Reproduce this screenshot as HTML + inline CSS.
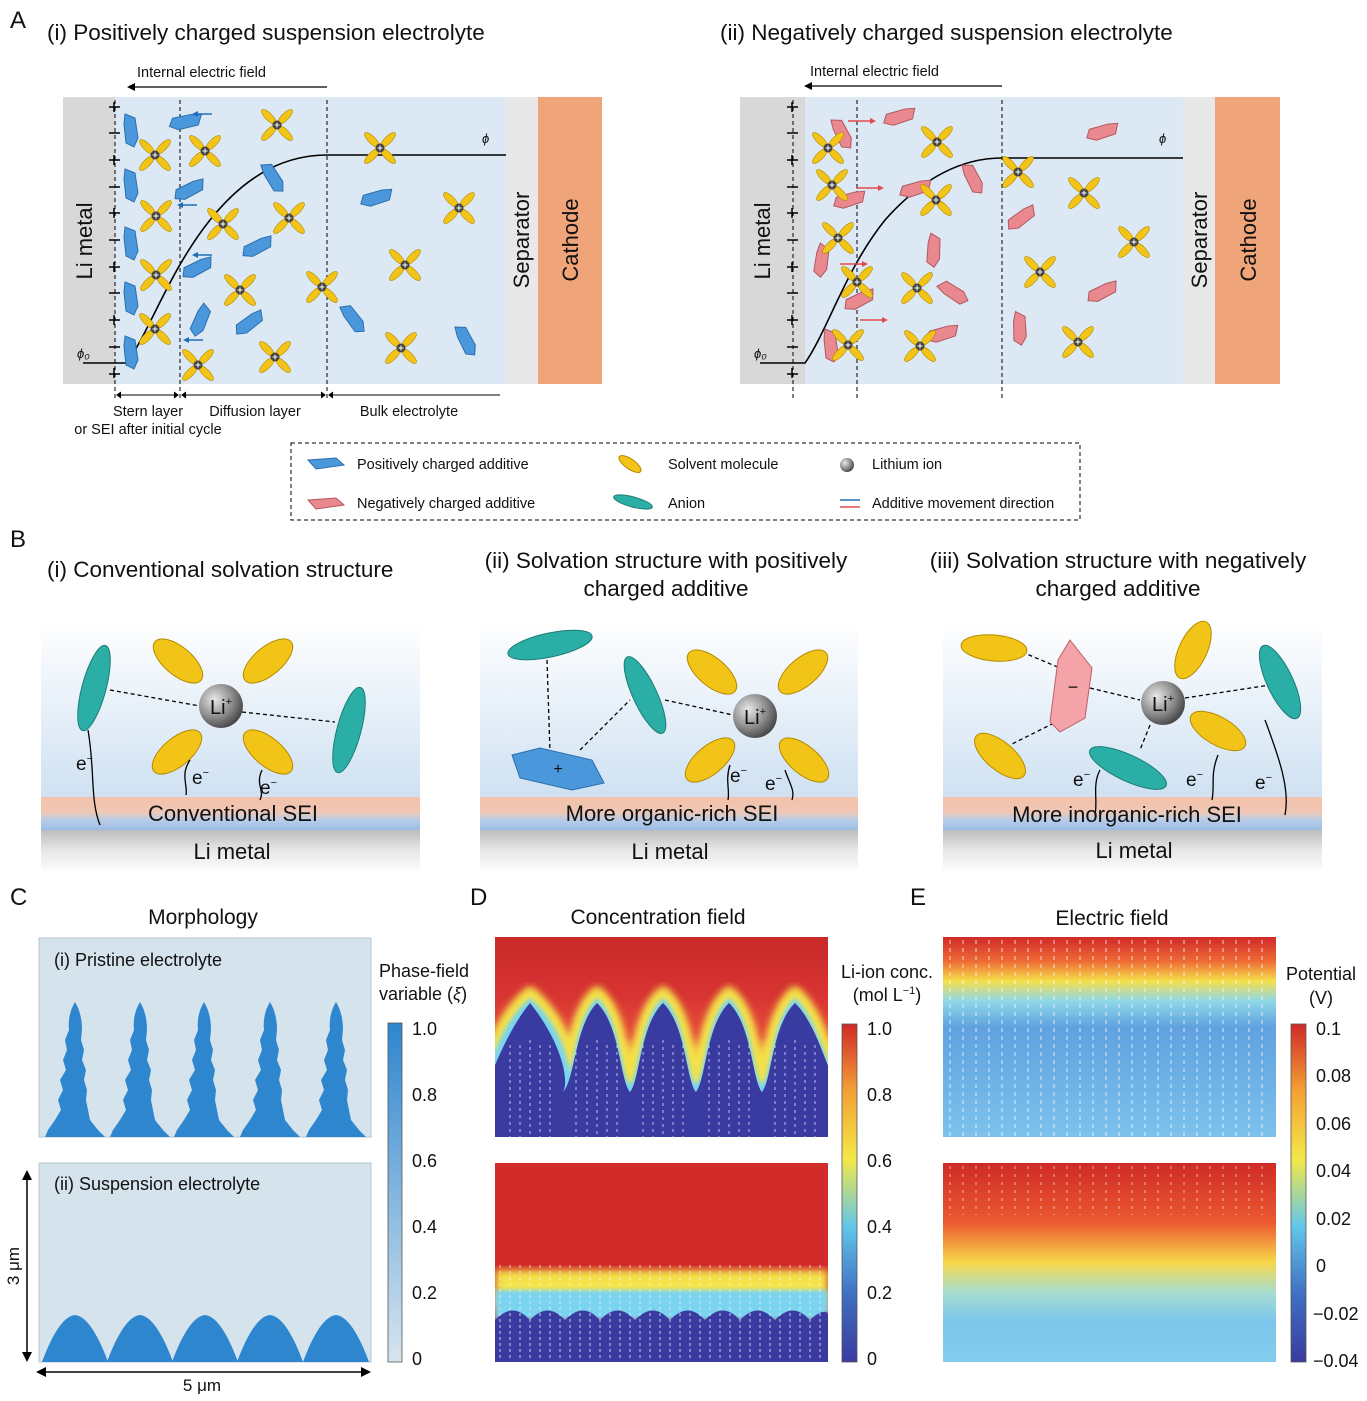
<!DOCTYPE html>
<html><head><meta charset="utf-8"><style>
html,body{margin:0;padding:0;background:#fff}
svg{display:block}
text{font-family:"Liberation Sans",sans-serif;fill:#111}
</style></head><body>
<svg width="1367" height="1401" viewBox="0 0 1367 1401" xmlns="http://www.w3.org/2000/svg">
<defs>
<g id="sv">
 <ellipse cx="-8" cy="-8" rx="10" ry="3.6" transform="rotate(45 -8 -8)" fill="#f2c417" stroke="#b38a00" stroke-width="0.6"/>
 <ellipse cx="8" cy="8" rx="10" ry="3.6" transform="rotate(45 8 8)" fill="#f2c417" stroke="#b38a00" stroke-width="0.6"/>
 <ellipse cx="8" cy="-8" rx="10" ry="3.6" transform="rotate(-45 8 -8)" fill="#f2c417" stroke="#b38a00" stroke-width="0.6"/>
 <ellipse cx="-8" cy="8" rx="10" ry="3.6" transform="rotate(-45 -8 8)" fill="#f2c417" stroke="#b38a00" stroke-width="0.6"/>
 <circle r="4.5" fill="#444"/><path d="M-2.5 0H2.5M0 -2.5V2.5" stroke="#fff" stroke-width="1"/>
</g>
<g id="hb"><polygon points="-6,-16 4,-12 7,8 3,17 -5,13 -7,-6" fill="#4a98db" stroke="#2d6fae" stroke-width="1"/></g>
<g id="hp"><polygon points="-6,-16 4,-12 7,8 3,17 -5,13 -7,-6" fill="#e9888e" stroke="#b25860" stroke-width="1"/></g>
<linearGradient id="bgB" x1="0" y1="0" x2="0" y2="1"><stop offset="0" stop-color="#fff"/><stop offset="1" stop-color="#cfe1f2"/></linearGradient>
<linearGradient id="sei" x1="0" y1="0" x2="0" y2="1"><stop offset="0" stop-color="#f3c2ab"/><stop offset="0.45" stop-color="#f0c7b4"/><stop offset="0.7" stop-color="#b7cde9"/><stop offset="1" stop-color="#9cbce4"/></linearGradient>
<linearGradient id="lim" x1="0" y1="0" x2="0" y2="1"><stop offset="0" stop-color="#bdbdbd"/><stop offset="0.5" stop-color="#e6e6e6"/><stop offset="1" stop-color="#fafafa"/></linearGradient>
<radialGradient id="li" cx="0.35" cy="0.35" r="0.7"><stop offset="0" stop-color="#e8e8e8"/><stop offset="0.6" stop-color="#8a8a8a"/><stop offset="1" stop-color="#444"/></radialGradient>
<linearGradient id="jet" x1="0" y1="1" x2="0" y2="0"><stop offset="0" stop-color="#3a3ba0"/><stop offset="0.2" stop-color="#3f6fc2"/><stop offset="0.4" stop-color="#61c6ea"/><stop offset="0.6" stop-color="#f4e848"/><stop offset="0.8" stop-color="#f4a235"/><stop offset="1" stop-color="#cf2a27"/></linearGradient>
<linearGradient id="pf" x1="0" y1="1" x2="0" y2="0"><stop offset="0" stop-color="#d7e4ee"/><stop offset="1" stop-color="#2e86cf"/></linearGradient>
<linearGradient id="e1" x1="0" y1="0" x2="0" y2="1"><stop offset="0" stop-color="#d02a28"/><stop offset="0.12" stop-color="#ee6a35"/><stop offset="0.22" stop-color="#f5df4a"/><stop offset="0.32" stop-color="#8fd8e8"/><stop offset="0.45" stop-color="#5fa2e0"/><stop offset="1" stop-color="#7cc2ec"/></linearGradient>
<linearGradient id="e2" x1="0" y1="0" x2="0" y2="1"><stop offset="0" stop-color="#cf2a27"/><stop offset="0.3" stop-color="#ec5a30"/><stop offset="0.5" stop-color="#f7d84a"/><stop offset="0.65" stop-color="#a6dcd0"/><stop offset="0.8" stop-color="#7cc6ec"/><stop offset="1" stop-color="#84ccee"/></linearGradient>
<linearGradient id="c1" x1="0" y1="0" x2="0" y2="1"><stop offset="0" stop-color="#c9292a"/><stop offset="0.3" stop-color="#d83432"/><stop offset="0.5" stop-color="#e8503a"/><stop offset="0.62" stop-color="#f3e14c"/><stop offset="0.72" stop-color="#7dd3ee"/><stop offset="0.8" stop-color="#3a3ba0"/></linearGradient>
<filter id="bl"><feGaussianBlur stdDeviation="4"/></filter>
<filter id="bl2"><feGaussianBlur stdDeviation="2"/></filter>
<clipPath id="cd1"><rect x="495" y="937" width="333" height="200"/></clipPath>
<clipPath id="cd2"><rect x="495" y="1163" width="333" height="199"/></clipPath>
</defs>

<!-- ============ A ============ -->
<text x="10" y="28" font-size="24">A</text>
<text x="47" y="40" font-size="22.5">(i) Positively charged suspension electrolyte</text>
<text x="720" y="40" font-size="22.5">(ii) Negatively charged suspension electrolyte</text>

<rect x="63" y="97" width="52" height="287" fill="#d8d8d8"/>
<rect x="115" y="97" width="391" height="287" fill="#dce9f5"/>
<rect x="506" y="97" width="32" height="287" fill="#e8e8e8"/>
<rect x="538" y="97" width="64" height="287" fill="#f0a47a"/>
<text transform="translate(92 241) rotate(-90)" font-size="22" text-anchor="middle">Li metal</text>
<text transform="translate(529 240) rotate(-90)" font-size="22" text-anchor="middle">Separator</text>
<text transform="translate(578 240) rotate(-90)" font-size="22" text-anchor="middle">Cathode</text>
<text x="137" y="77" font-size="14.5">Internal electric field</text>
<path d="M327 87H130" stroke="#000" stroke-width="1.3"/><path d="M127 87l8-4v8z"/>
<g stroke="#000" stroke-width="1" stroke-dasharray="4 3"><path d="M115 100V400M180 100V400M327 100V400"/></g>
<g stroke="#000" stroke-width="1.5">
<path d="M109 107h11M109 133h11M109 160h11M109 187h11M109 213h11M109 240h11M109 267h11M109 293h11M109 320h11M109 347h11M109 374h11M114 102v10M114 155v10M114 208v10M114 262v10M114 315v10M114 368v10"/></g>
<path d="M83 363H127C150 330 170 270 210 220C250 170 290 155 327 155H506" fill="none" stroke="#000" stroke-width="1.6"/>
<text x="77" y="358" font-size="13" font-style="italic">ϕ₀</text>
<text x="482" y="143" font-size="13" font-style="italic">ϕ</text>
<g>
<use href="#hb" x="131" y="130"/><use href="#hb" x="131" y="185"/><use href="#hb" x="131" y="243"/><use href="#hb" x="131" y="298"/><use href="#hb" x="131" y="352"/>
<use href="#hb" transform="translate(186 122) rotate(85)"/><use href="#hb" transform="translate(190 190) rotate(70)"/><use href="#hb" transform="translate(273 177) rotate(-25)"/>
<use href="#hb" transform="translate(258 247) rotate(70)"/><use href="#hb" transform="translate(198 268) rotate(70)"/><use href="#hb" transform="translate(201 320) rotate(30)"/>
<use href="#hb" transform="translate(250 323) rotate(60)"/><use href="#hb" transform="translate(377 198) rotate(80)"/><use href="#hb" transform="translate(353 318) rotate(-30)"/><use href="#hb" transform="translate(466 340) rotate(-20)"/>
</g>
<g>
<use href="#sv" x="277" y="125"/><use href="#sv" x="155" y="155"/><use href="#sv" x="205" y="151"/><use href="#sv" x="156" y="216"/><use href="#sv" x="223" y="224"/><use href="#sv" x="289" y="218"/><use href="#sv" x="156" y="275"/><use href="#sv" x="240" y="290"/><use href="#sv" x="322" y="287"/><use href="#sv" x="155" y="329"/><use href="#sv" x="198" y="365"/><use href="#sv" x="275" y="357"/><use href="#sv" x="380" y="148"/><use href="#sv" x="459" y="208"/><use href="#sv" x="405" y="265"/><use href="#sv" x="401" y="348"/>
</g>
<g stroke="#1f6fb8" stroke-width="1.5"><path d="M212 114H196M197 205H181M212 255H196M203 340H187"/></g>
<g fill="#1f6fb8"><path d="M192 114l6-3v6zM177 205l6-3v6zM192 255l6-3v6zM183 340l6-3v6z"/></g>
<g stroke="#000" stroke-width="1"><path d="M118 395H177M121 392l-4 3 4 3M174 392l4 3-4 3M183 395H324M186 392l-4 3 4 3M321 392l4 3-4 3M330 395H500M333 392l-4 3 4 3"/></g>
<text x="148" y="416" font-size="14.5" text-anchor="middle">Stern layer</text>
<text x="148" y="434" font-size="14.5" text-anchor="middle">or SEI after initial cycle</text>
<text x="255" y="416" font-size="14.5" text-anchor="middle">Diffusion layer</text>
<text x="409" y="416" font-size="14.5" text-anchor="middle">Bulk electrolyte</text>

<rect x="740" y="97" width="65" height="287" fill="#d8d8d8"/>
<rect x="805" y="97" width="378" height="287" fill="#dce9f5"/>
<rect x="1183" y="97" width="32" height="287" fill="#e8e8e8"/>
<rect x="1215" y="97" width="65" height="287" fill="#f0a47a"/>
<text transform="translate(770 241) rotate(-90)" font-size="22" text-anchor="middle">Li metal</text>
<text transform="translate(1207 240) rotate(-90)" font-size="22" text-anchor="middle">Separator</text>
<text transform="translate(1256 240) rotate(-90)" font-size="22" text-anchor="middle">Cathode</text>
<text x="810" y="76" font-size="14.5">Internal electric field</text>
<path d="M1002 86H808" stroke="#000" stroke-width="1.3"/><path d="M804 86l8-4v8z"/>
<g stroke="#000" stroke-width="1" stroke-dasharray="4 3"><path d="M793 100V400M857 100V400M1002 100V400"/></g>
<g stroke="#000" stroke-width="1.5">
<path d="M787 107h11M787 133h11M787 160h11M787 187h11M787 213h11M787 240h11M787 267h11M787 293h11M787 320h11M787 347h11M787 374h11M792 102v10M792 155v10M792 208v10M792 262v10M792 315v10M792 368v10"/></g>
<path d="M760 363H805C828 330 845 270 885 220C925 175 965 158 1002 158H1183" fill="none" stroke="#000" stroke-width="1.6"/>
<text x="754" y="358" font-size="13" font-style="italic">ϕ₀</text>
<text x="1159" y="143" font-size="13" font-style="italic">ϕ</text>
<g>
<use href="#hp" transform="translate(842 133) rotate(-20)"/><use href="#hp" transform="translate(900 117) rotate(80)"/><use href="#hp" transform="translate(850 200) rotate(80)"/><use href="#hp" transform="translate(916 189) rotate(80)"/><use href="#hp" transform="translate(973 178) rotate(-20)"/><use href="#hp" transform="translate(1022 218) rotate(60)"/><use href="#hp" transform="translate(934 250) rotate(10)"/><use href="#hp" transform="translate(822 260) rotate(15)"/><use href="#hp" transform="translate(860 300) rotate(70)"/><use href="#hp" transform="translate(953 292) rotate(-50)"/><use href="#hp" transform="translate(1103 132) rotate(80)"/><use href="#hp" transform="translate(1103 292) rotate(70)"/><use href="#hp" transform="translate(1020 328) rotate(5)"/><use href="#hp" transform="translate(943 334) rotate(80)"/><use href="#hp" transform="translate(831 345) rotate(0)"/>
</g>
<g>
<use href="#sv" x="828" y="148"/><use href="#sv" x="937" y="142"/><use href="#sv" x="832" y="185"/><use href="#sv" x="936" y="200"/><use href="#sv" x="838" y="238"/><use href="#sv" x="857" y="282"/><use href="#sv" x="917" y="288"/><use href="#sv" x="848" y="345"/><use href="#sv" x="920" y="346"/><use href="#sv" x="1018" y="172"/><use href="#sv" x="1084" y="193"/><use href="#sv" x="1134" y="242"/><use href="#sv" x="1040" y="272"/><use href="#sv" x="1078" y="342"/>
</g>
<g stroke="#e34b4b" stroke-width="1.5"><path d="M848 121H872M856 188H880M840 264H864M860 320H884"/></g>
<g fill="#e34b4b"><path d="M876 121l-6-3v6zM884 188l-6-3v6zM868 264l-6-3v6zM888 320l-6-3v6z"/></g>

<rect x="291" y="443" width="789" height="77" fill="none" stroke="#000" stroke-width="1" stroke-dasharray="4 3"/>
<polygon points="308,460 336,458 344,465 316,469" fill="#4a98db" stroke="#2d6fae"/>
<polygon points="308,500 336,498 344,505 316,509" fill="#e9888e" stroke="#b25860"/>
<text x="357" y="469" font-size="14.5">Positively charged additive</text>
<text x="357" y="508" font-size="14.5">Negatively charged additive</text>
<ellipse cx="630" cy="464" rx="13" ry="5" transform="rotate(35 630 464)" fill="#f2c417" stroke="#b38a00"/>
<ellipse cx="633" cy="502" rx="20" ry="5" transform="rotate(15 633 502)" fill="#2aaea5" stroke="#1b7c76"/>
<text x="668" y="469" font-size="14.5">Solvent molecule</text>
<text x="668" y="508" font-size="14.5">Anion</text>
<circle cx="847" cy="465" r="7" fill="url(#li)"/>
<text x="872" y="469" font-size="14.5">Lithium ion</text>
<path d="M840 500H860" stroke="#1f6fb8" stroke-width="1.5"/><path d="M840 507H860" stroke="#e34b4b" stroke-width="1.5"/>
<text x="872" y="508" font-size="14.5">Additive movement direction</text>

<!-- ============ B ============ -->
<text x="10" y="547" font-size="24">B</text>
<text x="47" y="577" font-size="22.5">(i) Conventional solvation structure</text>
<text x="666" y="568" font-size="22.5" text-anchor="middle">(ii) Solvation structure with positively</text>
<text x="666" y="596" font-size="22.5" text-anchor="middle">charged additive</text>
<text x="1118" y="568" font-size="22.5" text-anchor="middle">(iii) Solvation structure with negatively</text>
<text x="1118" y="596" font-size="22.5" text-anchor="middle">charged additive</text>

<g>
<rect x="41" y="620" width="379" height="177" fill="url(#bgB)"/><rect x="41" y="797" width="379" height="33" fill="url(#sei)"/><rect x="41" y="830" width="379" height="40" fill="url(#lim)"/>
<rect x="480" y="620" width="378" height="177" fill="url(#bgB)"/><rect x="480" y="797" width="378" height="33" fill="url(#sei)"/><rect x="480" y="830" width="378" height="40" fill="url(#lim)"/>
<rect x="943" y="620" width="379" height="177" fill="url(#bgB)"/><rect x="943" y="797" width="379" height="33" fill="url(#sei)"/><rect x="943" y="830" width="379" height="40" fill="url(#lim)"/>
</g>
<g stroke="#000" stroke-width="1.3" stroke-dasharray="4 3" fill="none"><path d="M110 690L200 706M242 712L335 722"/></g>
<ellipse cx="94" cy="688" rx="12" ry="44" transform="rotate(15 94 688)" fill="#2aaea5" stroke="#1b7c76"/>
<ellipse cx="349" cy="730" rx="12" ry="44" transform="rotate(15 349 730)" fill="#2aaea5" stroke="#1b7c76"/>
<ellipse cx="178" cy="661" rx="14" ry="30" transform="rotate(-50 178 661)" fill="#f2c417" stroke="#b38a00"/>
<ellipse cx="268" cy="661" rx="14" ry="30" transform="rotate(50 268 661)" fill="#f2c417" stroke="#b38a00"/>
<ellipse cx="177" cy="752" rx="14" ry="30" transform="rotate(50 177 752)" fill="#f2c417" stroke="#b38a00"/>
<ellipse cx="268" cy="752" rx="14" ry="30" transform="rotate(-50 268 752)" fill="#f2c417" stroke="#b38a00"/>
<circle cx="221" cy="706" r="22" fill="url(#li)"/><text x="221" y="714" font-size="20" text-anchor="middle">Li<tspan font-size="11" dy="-9">+</tspan></text>
<g fill="none" stroke="#000" stroke-width="1.3"><path d="M88 730C95 770 90 800 100 825M190 760C180 775 188 785 186 795M262 770C255 785 265 790 260 800"/></g>
<text x="76" y="770" font-size="19">e<tspan font-size="11" dy="-8">−</tspan></text>
<text x="192" y="784" font-size="19">e<tspan font-size="11" dy="-8">−</tspan></text>
<text x="260" y="794" font-size="19">e<tspan font-size="11" dy="-8">−</tspan></text>
<text x="233" y="821" font-size="22" text-anchor="middle">Conventional SEI</text>
<text x="232" y="859" font-size="22" text-anchor="middle">Li metal</text>
<g stroke="#000" stroke-width="1.3" stroke-dasharray="4 3" fill="none"><path d="M547 660L550 752M580 750L630 700M665 700L733 715"/></g>
<ellipse cx="550" cy="645" rx="43" ry="12" transform="rotate(-12 550 645)" fill="#2aaea5" stroke="#1b7c76"/>
<ellipse cx="645" cy="695" rx="12" ry="42" transform="rotate(-25 645 695)" fill="#2aaea5" stroke="#1b7c76"/>
<polygon points="512,755 540,748 592,760 604,783 572,790 520,778" fill="#4a98db" stroke="#2d6fae"/>
<text x="558" y="774" font-size="16" text-anchor="middle">+</text>
<ellipse cx="712" cy="672" rx="14" ry="30" transform="rotate(-50 712 672)" fill="#f2c417" stroke="#b38a00"/>
<ellipse cx="803" cy="672" rx="14" ry="30" transform="rotate(50 803 672)" fill="#f2c417" stroke="#b38a00"/>
<ellipse cx="710" cy="760" rx="14" ry="30" transform="rotate(50 710 760)" fill="#f2c417" stroke="#b38a00"/>
<ellipse cx="804" cy="760" rx="14" ry="30" transform="rotate(-50 804 760)" fill="#f2c417" stroke="#b38a00"/>
<circle cx="755" cy="716" r="22" fill="url(#li)"/><text x="755" y="724" font-size="20" text-anchor="middle">Li<tspan font-size="11" dy="-9">+</tspan></text>
<g fill="none" stroke="#000" stroke-width="1.3"><path d="M730 765C725 780 730 790 728 800M785 770C790 785 795 790 792 800"/></g>
<text x="730" y="782" font-size="19">e<tspan font-size="11" dy="-8">−</tspan></text>
<text x="765" y="790" font-size="19">e<tspan font-size="11" dy="-8">−</tspan></text>
<text x="672" y="821" font-size="22" text-anchor="middle">More organic-rich SEI</text>
<text x="670" y="859" font-size="22" text-anchor="middle">Li metal</text>
<g stroke="#000" stroke-width="1.3" stroke-dasharray="4 3" fill="none"><path d="M1022 652L1060 668M1090 688L1140 700M1060 720L1010 745M1185 698L1270 685M1150 725L1140 750"/></g>
<ellipse cx="994" cy="648" rx="33" ry="13" transform="rotate(5 994 648)" fill="#f2c417" stroke="#b38a00"/>
<ellipse cx="1193" cy="650" rx="14" ry="31" transform="rotate(25 1193 650)" fill="#f2c417" stroke="#b38a00"/>
<ellipse cx="1000" cy="756" rx="14" ry="31" transform="rotate(-50 1000 756)" fill="#f2c417" stroke="#b38a00"/>
<ellipse cx="1218" cy="731" rx="14" ry="31" transform="rotate(-60 1218 731)" fill="#f2c417" stroke="#b38a00"/>
<ellipse cx="1280" cy="682" rx="13" ry="40" transform="rotate(-25 1280 682)" fill="#2aaea5" stroke="#1b7c76"/>
<ellipse cx="1128" cy="768" rx="42" ry="13" transform="rotate(25 1128 768)" fill="#2aaea5" stroke="#1b7c76"/>
<polygon points="1070,640 1092,668 1085,718 1060,732 1050,722 1058,660" fill="#f4a3a8" stroke="#c06068"/>
<text x="1073" y="693" font-size="18" text-anchor="middle">−</text>
<circle cx="1163" cy="703" r="22" fill="url(#li)"/><text x="1163" y="711" font-size="20" text-anchor="middle">Li<tspan font-size="11" dy="-9">+</tspan></text>
<g fill="none" stroke="#000" stroke-width="1.3"><path d="M1100 770C1092 785 1098 800 1095 815M1218 755C1210 775 1215 785 1212 800M1265 720C1280 760 1290 790 1285 815"/></g>
<text x="1073" y="786" font-size="19">e<tspan font-size="11" dy="-8">−</tspan></text>
<text x="1186" y="786" font-size="19">e<tspan font-size="11" dy="-8">−</tspan></text>
<text x="1255" y="789" font-size="19">e<tspan font-size="11" dy="-8">−</tspan></text>
<text x="1127" y="822" font-size="22" text-anchor="middle">More inorganic-rich SEI</text>
<text x="1134" y="858" font-size="22" text-anchor="middle">Li metal</text>

<!-- ============ C ============ -->
<text x="10" y="905" font-size="24">C</text>
<text x="203" y="924" font-size="21" text-anchor="middle">Morphology</text>
<rect x="39" y="938" width="332" height="199" fill="#d5e3ec" stroke="#b8c6d0"/>
<text x="54" y="966" font-size="18">(i) Pristine electrolyte</text>
<g fill="#2e86cf">
<path id="dd" d="M75 1002C70 1010 68 1020 69 1030L65 1040 67 1050 63 1060 66 1070 60 1080 63 1090 58 1100 61 1110 55 1120 48 1130 45 1137H105L98 1130 90 1120 88 1110 86 1100 87 1090 84 1080 86 1070 82 1060 84 1050 81 1040 82 1030C82 1020 80 1010 75 1002Z"/>
<use href="#dd" x="65"/><use href="#dd" x="129"/><use href="#dd" x="195"/><use href="#dd" x="261"/>
</g>
<rect x="39" y="1163" width="332" height="199" fill="#d5e3ec" stroke="#b8c6d0"/>
<text x="54" y="1190" font-size="18">(ii) Suspension electrolyte</text>
<g fill="#2e86cf">
<path id="ar" d="M42 1362C50 1340 62 1316 75 1315C88 1316 100 1340 108 1362Z"/>
<use href="#ar" x="65"/><use href="#ar" x="130"/><use href="#ar" x="195"/><use href="#ar" x="261"/>
</g>
<g stroke="#000" stroke-width="1.5"><path d="M27 1176V1356M40 1372H366"/></g>
<path d="M27 1170l-5 10h10zM27 1362l-5-10h10zM36 1372l10-5v10zM371 1372l-10-5v10z"/>
<text transform="translate(19 1266) rotate(-90)" font-size="17" text-anchor="middle">3 μm</text>
<text x="202" y="1391" font-size="17" text-anchor="middle">5 μm</text>
<text x="379" y="977" font-size="18">Phase-field</text>
<text x="379" y="1000" font-size="18">variable (<tspan font-style="italic">ξ</tspan>)</text>
<rect x="388" y="1023" width="14" height="339" fill="url(#pf)" stroke="#555" stroke-width="0.8"/>
<g font-size="18"><text x="412" y="1035">1.0</text><text x="412" y="1101">0.8</text><text x="412" y="1167">0.6</text><text x="412" y="1233">0.4</text><text x="412" y="1299">0.2</text><text x="412" y="1365">0</text></g>

<!-- ============ D ============ -->
<text x="470" y="905" font-size="24">D</text>
<text x="658" y="924" font-size="21" text-anchor="middle">Concentration field</text>
<g clip-path="url(#cd1)">
<rect x="495" y="937" width="333" height="200" fill="url(#c1)"/>
<path id="arches" d="M480 1137V1090C486 1090 495 1030 530 1000C565 1030 575 1085 563 1085C575 1085 575 1020 597 1000C620 1020 620 1085 630 1085C640 1085 640 1020 663 1000C686 1020 686 1085 696 1085C706 1085 706 1020 729 1000C752 1020 752 1085 762 1085C772 1085 772 1020 795 1000C818 1020 830 1085 840 1085V1137Z" fill="none" stroke="#f3e04a" stroke-width="16" filter="url(#bl)"/>
<use href="#arches" stroke="#f0ba40" stroke-width="12" transform="translate(0 -4)"/>
<path d="M480 1137V1090C486 1090 495 1030 530 1000C565 1030 575 1085 563 1085C575 1085 575 1020 597 1000C620 1020 620 1085 630 1085C640 1085 640 1020 663 1000C686 1020 686 1085 696 1085C706 1085 706 1020 729 1000C752 1020 752 1085 762 1085C772 1085 772 1020 795 1000C818 1020 830 1085 840 1085V1137Z" fill="#f4e448" stroke="#f4e448" stroke-width="6" filter="url(#bl2)"/>
<path d="M480 1137V1090C486 1090 495 1030 530 1000C565 1030 575 1085 563 1085C575 1085 575 1020 597 1000C620 1020 620 1085 630 1085C640 1085 640 1020 663 1000C686 1020 686 1085 696 1085C706 1085 706 1020 729 1000C752 1020 752 1085 762 1085C772 1085 772 1020 795 1000C818 1020 830 1085 840 1085V1137Z" fill="#7ad4ef" stroke="#7ad4ef" stroke-width="3" filter="url(#bl2)"/>
<path d="M480 1137V1095C486 1095 500 1040 530 1003C560 1040 570 1080 563 1092C575 1080 575 1025 597 1003C620 1025 620 1080 630 1092C640 1080 640 1025 663 1003C686 1025 686 1080 696 1092C706 1080 706 1025 729 1003C752 1025 752 1080 762 1092C772 1080 772 1025 795 1003C818 1025 830 1080 840 1092V1137Z" fill="#3a3ba0"/>
<g stroke="#dfe6ff" stroke-width="1" stroke-dasharray="3 4" opacity="0.8"><path d="M510 1045V1137M520 1045V1137M530 1040V1137M540 1045V1137M550 1045V1137M576 1045V1137M587 1045V1137M597 1040V1137M607 1045V1137M617 1045V1137M643 1045V1137M653 1045V1137M663 1040V1137M673 1045V1137M683 1045V1137M709 1045V1137M719 1045V1137M729 1040V1137M739 1045V1137M749 1045V1137M775 1045V1137M785 1045V1137M795 1040V1137M805 1045V1137M815 1045V1137"/></g>
</g>
<g clip-path="url(#cd2)">
<rect x="495" y="1163" width="333" height="199" fill="#d22c2a"/>
<rect x="495" y="1270" width="333" height="40" fill="#f4e448" filter="url(#bl)"/>
<rect x="495" y="1290" width="333" height="30" fill="#7ad4ef" filter="url(#bl2)"/>
<path d="M495 1362V1320C510 1305 520 1310 530 1320C545 1305 555 1310 565 1320C580 1305 590 1310 600 1320C615 1305 625 1310 635 1320C650 1305 660 1310 670 1320C685 1305 695 1310 705 1320C720 1305 730 1310 740 1320C755 1305 765 1310 775 1320C790 1305 800 1310 810 1320C820 1310 828 1310 828 1315V1362Z" fill="#3a3ba0"/>
<g stroke="#eef" stroke-width="1" stroke-dasharray="3 3" opacity="0.8"><path d="M500 1265V1360M510 1265V1360M520 1265V1360M530 1265V1360M540 1265V1360M550 1265V1360M560 1265V1360M570 1265V1360M580 1265V1360M590 1265V1360M600 1265V1360M610 1265V1360M620 1265V1360M630 1265V1360M640 1265V1360M650 1265V1360M660 1265V1360M670 1265V1360M680 1265V1360M690 1265V1360M700 1265V1360M710 1265V1360M720 1265V1360M730 1265V1360M740 1265V1360M750 1265V1360M760 1265V1360M770 1265V1360M780 1265V1360M790 1265V1360M800 1265V1360M810 1265V1360M820 1265V1360"/></g>
</g>
<text x="887" y="978" font-size="18" text-anchor="middle">Li-ion conc.</text>
<text x="887" y="1001" font-size="18" text-anchor="middle">(mol L<tspan font-size="11" dy="-7">−1</tspan><tspan dy="7">)</tspan></text>
<rect x="842" y="1024" width="15" height="338" fill="url(#jet)" stroke="#555" stroke-width="0.8"/>
<g font-size="18"><text x="867" y="1035">1.0</text><text x="867" y="1101">0.8</text><text x="867" y="1167">0.6</text><text x="867" y="1233">0.4</text><text x="867" y="1299">0.2</text><text x="867" y="1365">0</text></g>

<!-- ============ E ============ -->
<text x="910" y="905" font-size="24">E</text>
<text x="1112" y="925" font-size="21" text-anchor="middle">Electric field</text>
<rect x="943" y="937" width="333" height="200" fill="url(#e1)"/>
<g stroke="#fff" stroke-width="1" stroke-dasharray="4 4" opacity="0.75"><path d="M950 940V1137M963 940V1137M976 940V1137M989 940V1137M1002 940V1137M1015 940V1137M1028 940V1137M1041 940V1137M1054 940V1137M1067 940V1137M1080 940V1137M1093 940V1137M1106 940V1137M1119 940V1137M1132 940V1137M1145 940V1137M1158 940V1137M1171 940V1137M1184 940V1137M1197 940V1137M1210 940V1137M1223 940V1137M1236 940V1137M1249 940V1137M1262 940V1137"/></g>
<rect x="943" y="1163" width="333" height="199" fill="url(#e2)"/>
<g stroke="#fff" stroke-width="1" stroke-dasharray="3 5" opacity="0.6"><path d="M950 1166V1215M963 1166V1215M976 1166V1215M989 1166V1215M1002 1166V1215M1015 1166V1215M1028 1166V1215M1041 1166V1215M1054 1166V1215M1067 1166V1215M1080 1166V1215M1093 1166V1215M1106 1166V1215M1119 1166V1215M1132 1166V1215M1145 1166V1215M1158 1166V1215M1171 1166V1215M1184 1166V1215M1197 1166V1215M1210 1166V1215M1223 1166V1215M1236 1166V1215M1249 1166V1215M1262 1166V1215"/></g>
<text x="1321" y="980" font-size="18" text-anchor="middle">Potential</text>
<text x="1321" y="1004" font-size="18" text-anchor="middle">(V)</text>
<rect x="1291" y="1024" width="15" height="338" fill="url(#jet)" stroke="#555" stroke-width="0.8"/>
<g font-size="18"><text x="1316" y="1035">0.1</text><text x="1316" y="1082">0.08</text><text x="1316" y="1130">0.06</text><text x="1316" y="1177">0.04</text><text x="1316" y="1225">0.02</text><text x="1316" y="1272">0</text><text x="1313" y="1320">−0.02</text><text x="1313" y="1367">−0.04</text></g>
</svg>
</body></html>
